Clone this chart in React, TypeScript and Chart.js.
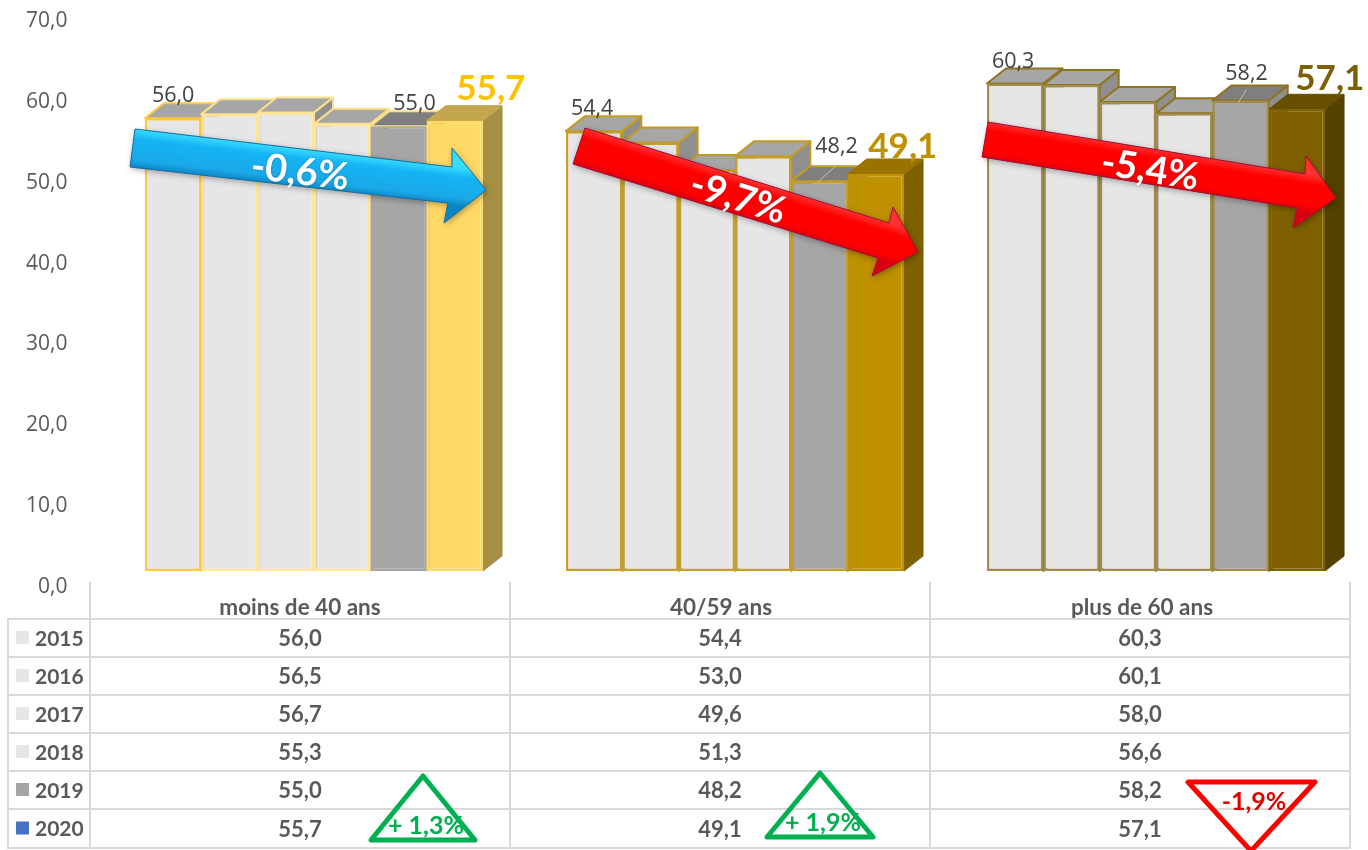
import React, { useEffect, useRef } from "react";
import { Chart, registerables } from "chart.js";

Chart.register(...registerables);

const categories = ["moins de 40 ans", "40/59 ans", "plus de 60 ans"];
const years = ["2015", "2016", "2017", "2018", "2019", "2020"];
const values2015 = [56.0, 54.4, 60.3];
const values2016 = [56.5, 53.0, 60.1];
const values2017 = [56.7, 49.6, 58.0];
const values2018 = [55.3, 51.3, 56.6];
const values2019 = [55.0, 48.2, 58.2];
const values2020 = [55.7, 49.1, 57.1];
const series = [values2015, values2016, values2017, values2018, values2019, values2020];

const trendLabels = ["-0,6%", "-9,7%", "-5,4%"];
const changeLabels = ["+ 1,3%", "+ 1,9%", "-1,9%"];

const fr = (v: number) => v.toFixed(1).replace(".", ",");

// Colours per age group: accent of the last bar, its faces and the outlines.
const accent = ["#FFD966", "#BF9000", "#7F6000"];
const accentTop = ["#C4A64E", "#997300", "#665000"];
const accentSide = ["#A68F45", "#7F6000", "#544000"];
const firstOutline = ["#FFC93C", "#C49E30", "#A08C50"];
const outline = ["#FFE59E", "#C49E30", "#A08C50"];
const firstTopEdge = ["#FFC93C", "#C49A22", "#8F7420"];
const topEdge = ["#FFE08A", "#C49A22", "#8F7420"];
const labelAccent = ["#FFC000", "#BF9000", "#7F6000"];
const swatches = ["#E7E6E6", "#E7E6E6", "#E7E6E6", "#E7E6E6", "#A5A5A5", "#4472C4"];

const DEPTH_X = 19;
const DEPTH_Y = 15;
const ROWS_Y = [619, 657, 695, 733, 771, 809, 848];
const COLS_X = [90, 510, 930, 1350];

// Which bars carry a value label, and how far the label sits from the bar's top centre.
const valueLabels = [
  { s: 0, c: 0, dx: 0, dy: -22 },
  { s: 4, c: 0, dx: 16, dy: -22 },
  { s: 0, c: 1, dx: -2, dy: -22 },
  { s: 4, c: 1, dx: 17, dy: -34, leader: [-2, 1, 17, -16] },
  { s: 0, c: 2, dx: -2, dy: -22 },
  { s: 4, c: 2, dx: 6, dy: -27, leader: [-2, 2, 6, -11] },
];
const accentLabels = [
  { c: 0, dx: 36, dy: -32 },
  { c: 1, dx: 27, dy: -27 },
  { c: 2, dx: 33, dy: -31 },
];

// Block arrows drawn over each group, with their caption.
const arrows = [
  {
    tail: [[135, 129], [130, 167]], neck: [[452, 167], [448, 203]], barb: [[452, 148], [444, 223]], tip: [486, 190],
    caption: [300, 172], fill: ["#38DCFF", "#14B4F5", "#1AA8E8", "#0E86C4"], edge: "#176F9E",
  },
  {
    tail: [[585, 128], [573, 164]], neck: [[889, 223], [878, 258]], barb: [[893, 207], [872, 276]], tip: [918, 252],
    caption: [738, 198], fill: ["#FF3030", "#FF0000", "#FF0000", "#D80010"], edge: "#A0103A",
  },
  {
    tail: [[988, 122], [982, 157]], neck: [[1305, 174], [1297, 208]], barb: [[1306, 156], [1293, 228]], tip: [1336, 198],
    caption: [1150, 170], fill: ["#FF3030", "#FF0000", "#FF0000", "#D80010"], edge: "#A0103A",
  },
];

const triangles = [
  { pts: [[423, 776], [371, 840], [475, 840]], color: "#00B050", text: "#00B050", label: [426, 826], width: 5 },
  { pts: [[820, 773], [767, 837], [873, 837]], color: "#00B050", text: "#00B050", label: [823, 823], width: 5 },
  { pts: [[1188, 782], [1315, 782], [1251, 851]], color: "#FF0000", text: "#E00000", label: [1254, 802], width: 5 },
];

const poly = (ctx: CanvasRenderingContext2D, pts: number[][]) => {
  ctx.beginPath();
  pts.forEach(([x, y], i) => (i ? ctx.lineTo(x, y) : ctx.moveTo(x, y)));
  ctx.closePath();
};

// Top and side faces, painted left to right behind the front faces the library draws.
const depthFaces = {
  id: "depthFaces",
  beforeDatasetsDraw(chart: Chart) {
    const { ctx } = chart;
    categories.forEach((_, c) => {
      years.forEach((_y, s) => {
        const bar: any = chart.getDatasetMeta(s).data[c];
        const l = bar.x - bar.width / 2;
        const r = bar.x + bar.width / 2;
        const { y, base } = bar;
        const last = s === 5;
        const edge = last ? accentTop[c] : s === 0 ? firstTopEdge[c] : topEdge[c];
        ctx.save();
        ctx.lineJoin = "round";
        ctx.lineWidth = last ? 1 : 2;
        poly(ctx, [[r, y], [r + DEPTH_X, y - DEPTH_Y], [r + DEPTH_X, base - DEPTH_Y], [r, base]]);
        ctx.fillStyle = last ? accentSide[c] : "#8F8F8F";
        ctx.strokeStyle = last ? accentSide[c] : edge;
        ctx.fill();
        ctx.stroke();
        poly(ctx, [[l, y], [l + DEPTH_X, y - DEPTH_Y], [r + DEPTH_X, y - DEPTH_Y], [r, y]]);
        ctx.fillStyle = last ? accentTop[c] : s === 4 ? "#7F7F7F" : "#A6A6A6";
        ctx.strokeStyle = edge;
        ctx.fill();
        ctx.stroke();
        ctx.restore();
      });
    });
  },
};

const overlays = {
  id: "overlays",
  afterDraw(chart: Chart) {
    const { ctx } = chart;
    ctx.save();
    ctx.textAlign = "center";
    ctx.textBaseline = "middle";

    // Value labels above the bars
    ctx.font = '21.5px "Open Sans"';
    valueLabels.forEach(({ s, c, dx, dy, leader }: any) => {
      const bar: any = chart.getDatasetMeta(s).data[c];
      if (leader) {
        ctx.strokeStyle = "#BFBFBF";
        ctx.lineWidth = 1;
        ctx.beginPath();
        ctx.moveTo(bar.x + leader[0], bar.y + leader[1]);
        ctx.lineTo(bar.x + leader[2], bar.y + leader[3]);
        ctx.stroke();
      }
      ctx.fillStyle = "#404040";
      ctx.fillText(fr(series[s][c]), bar.x + dx, bar.y + dy);
    });
    ctx.font = "bold 35px Lato";
    accentLabels.forEach(({ c, dx, dy }) => {
      const bar: any = chart.getDatasetMeta(5).data[c];
      ctx.fillStyle = labelAccent[c];
      ctx.fillText(fr(series[5][c]), bar.x + dx, bar.y + dy);
    });

    // Data table under the plot
    ctx.strokeStyle = "#D9D9D9";
    ctx.lineWidth = 2;
    ctx.beginPath();
    ROWS_Y.forEach((y) => {
      ctx.moveTo(8, y);
      ctx.lineTo(1350, y);
    });
    COLS_X.forEach((x) => {
      ctx.moveTo(x, 582);
      ctx.lineTo(x, 849);
    });
    ctx.moveTo(8, 618);
    ctx.lineTo(8, 849);
    ctx.stroke();

    years.forEach((year, s) => {
      const cy = (ROWS_Y[s] + ROWS_Y[s + 1]) / 2;
      ctx.fillStyle = swatches[s];
      ctx.fillRect(16, cy - 7, 13, 13);
      ctx.fillStyle = "#595959";
      ctx.textAlign = "left";
      ctx.font = "bold 21px Lato";
      ctx.fillText(year, 35, cy + 1);
      ctx.textAlign = "center";
      ctx.font = "bold 22px Lato";
      categories.forEach((_, c) => {
        ctx.fillText(fr(series[s][c]), (COLS_X[c] + COLS_X[c + 1]) / 2, cy + 1);
      });
    });

    // Trend arrows
    arrows.forEach((a, i) => {
      const [ax, ay] = [(a.tail[0][0] + a.tail[1][0]) / 2, (a.tail[0][1] + a.tail[1][1]) / 2];
      const angle = Math.atan2(a.tip[1] - ay, a.tip[0] - ax);
      const shape = [a.tail[0], a.neck[0], a.barb[0], a.tip, a.barb[1], a.neck[1], a.tail[1]];
      ctx.save();
      ctx.shadowColor = "rgba(0,0,0,0.35)";
      ctx.shadowBlur = 6;
      ctx.shadowOffsetX = 1;
      ctx.shadowOffsetY = 2;
      poly(ctx, shape);
      ctx.fillStyle = a.fill[1];
      ctx.fill();
      ctx.restore();
      ctx.save();
      poly(ctx, shape);
      ctx.clip();
      ctx.translate(ax, ay);
      ctx.rotate(angle);
      const len = Math.hypot(a.tip[0] - ax, a.tip[1] - ay);
      const half = 19;
      const g = ctx.createLinearGradient(0, -half, 0, half);
      g.addColorStop(0, a.fill[0]);
      g.addColorStop(0.25, a.fill[1]);
      g.addColorStop(0.8, a.fill[2]);
      g.addColorStop(1, a.fill[3]);
      ctx.fillStyle = g;
      ctx.fillRect(-10, -60, len + 20, 120);
      ctx.restore();
      poly(ctx, shape);
      ctx.strokeStyle = a.edge;
      ctx.lineWidth = 1;
      ctx.stroke();

      ctx.save();
      ctx.translate(a.caption[0], a.caption[1]);
      ctx.rotate(angle);
      ctx.font = "bold 38px Lato";
      ctx.fillStyle = "#FFFFFF";
      ctx.shadowColor = "rgba(0,0,0,0.3)";
      ctx.shadowBlur = 2;
      ctx.textAlign = "center";
      ctx.fillText(trendLabels[i], 0, 0);
      ctx.restore();
    });

    // Year-on-year change triangles
    triangles.forEach((t, i) => {
      poly(ctx, t.pts);
      ctx.strokeStyle = t.color;
      ctx.lineWidth = t.width;
      ctx.lineJoin = "round";
      ctx.stroke();
      ctx.font = "bold 25px Lato";
      ctx.fillStyle = t.text;
      ctx.textAlign = "center";
      ctx.fillText(changeLabels[i], t.label[0], t.label[1]);
    });
    ctx.restore();
  },
};

export default function App() {
  const ref = useRef<HTMLCanvasElement>(null);

  useEffect(() => {
    if (!ref.current) return;
    const chart = new Chart(ref.current, {
      type: "bar",
      data: {
        labels: categories,
        datasets: years.map((year, s) => ({
          label: year,
          data: series[s],
          backgroundColor: categories.map((_, c) =>
            s === 5 ? accent[c] : s === 4 ? "#A6A6A6" : "#E6E6E6"
          ),
          borderColor: categories.map((_, c) =>
            s === 5 ? accent[c] : s === 0 ? firstOutline[c] : s === 4 && c === 0 ? "#A6A6A6" : outline[c]
          ),
          borderWidth: 2.5,
          borderSkipped: false,
          barPercentage: 1,
          categoryPercentage: 0.803,
        })),
      },
      options: {
        responsive: false,
        animation: false,
        layout: { padding: { top: 5, right: 1.5, bottom: 0, left: 0 } },
        plugins: { legend: { display: false }, tooltip: { enabled: false } },
        scales: {
          x: {
            grid: { display: false, drawTicks: false },
            border: { display: false },
            afterFit: (scale: any) => {
              scale.height = 279;
            },
            ticks: {
              maxRotation: 0,
              autoSkip: false,
              padding: 23,
              labelOffset: -14,
              color: "#595959",
              font: { family: "Lato", weight: "bold", size: 22.5 },
            },
          },
          y: {
            min: 0,
            max: 70,
            grid: { display: false, drawTicks: false },
            border: { display: false },
            afterFit: (scale: any) => {
              scale.width = 103.5;
              scale.paddingTop = 0;
              scale.paddingBottom = 0;
            },
            ticks: {
              stepSize: 10,
              padding: 36,
              labelOffset: 16,
              color: "#595959",
              font: { family: "Open Sans", size: 21 },
              callback: (v: any) => fr(Number(v)),
            },
          },
        },
      },
      plugins: [depthFaces, overlays],
    } as any);
    return () => chart.destroy();
  }, []);

  return (
    <div style={{ position: "absolute", left: 0, top: 0, width: 1368, height: 850, overflow: "hidden", background: "#fff" }}>
      <canvas ref={ref} width={1368} height={850} style={{ display: "block" }} />
    </div>
  );
}
